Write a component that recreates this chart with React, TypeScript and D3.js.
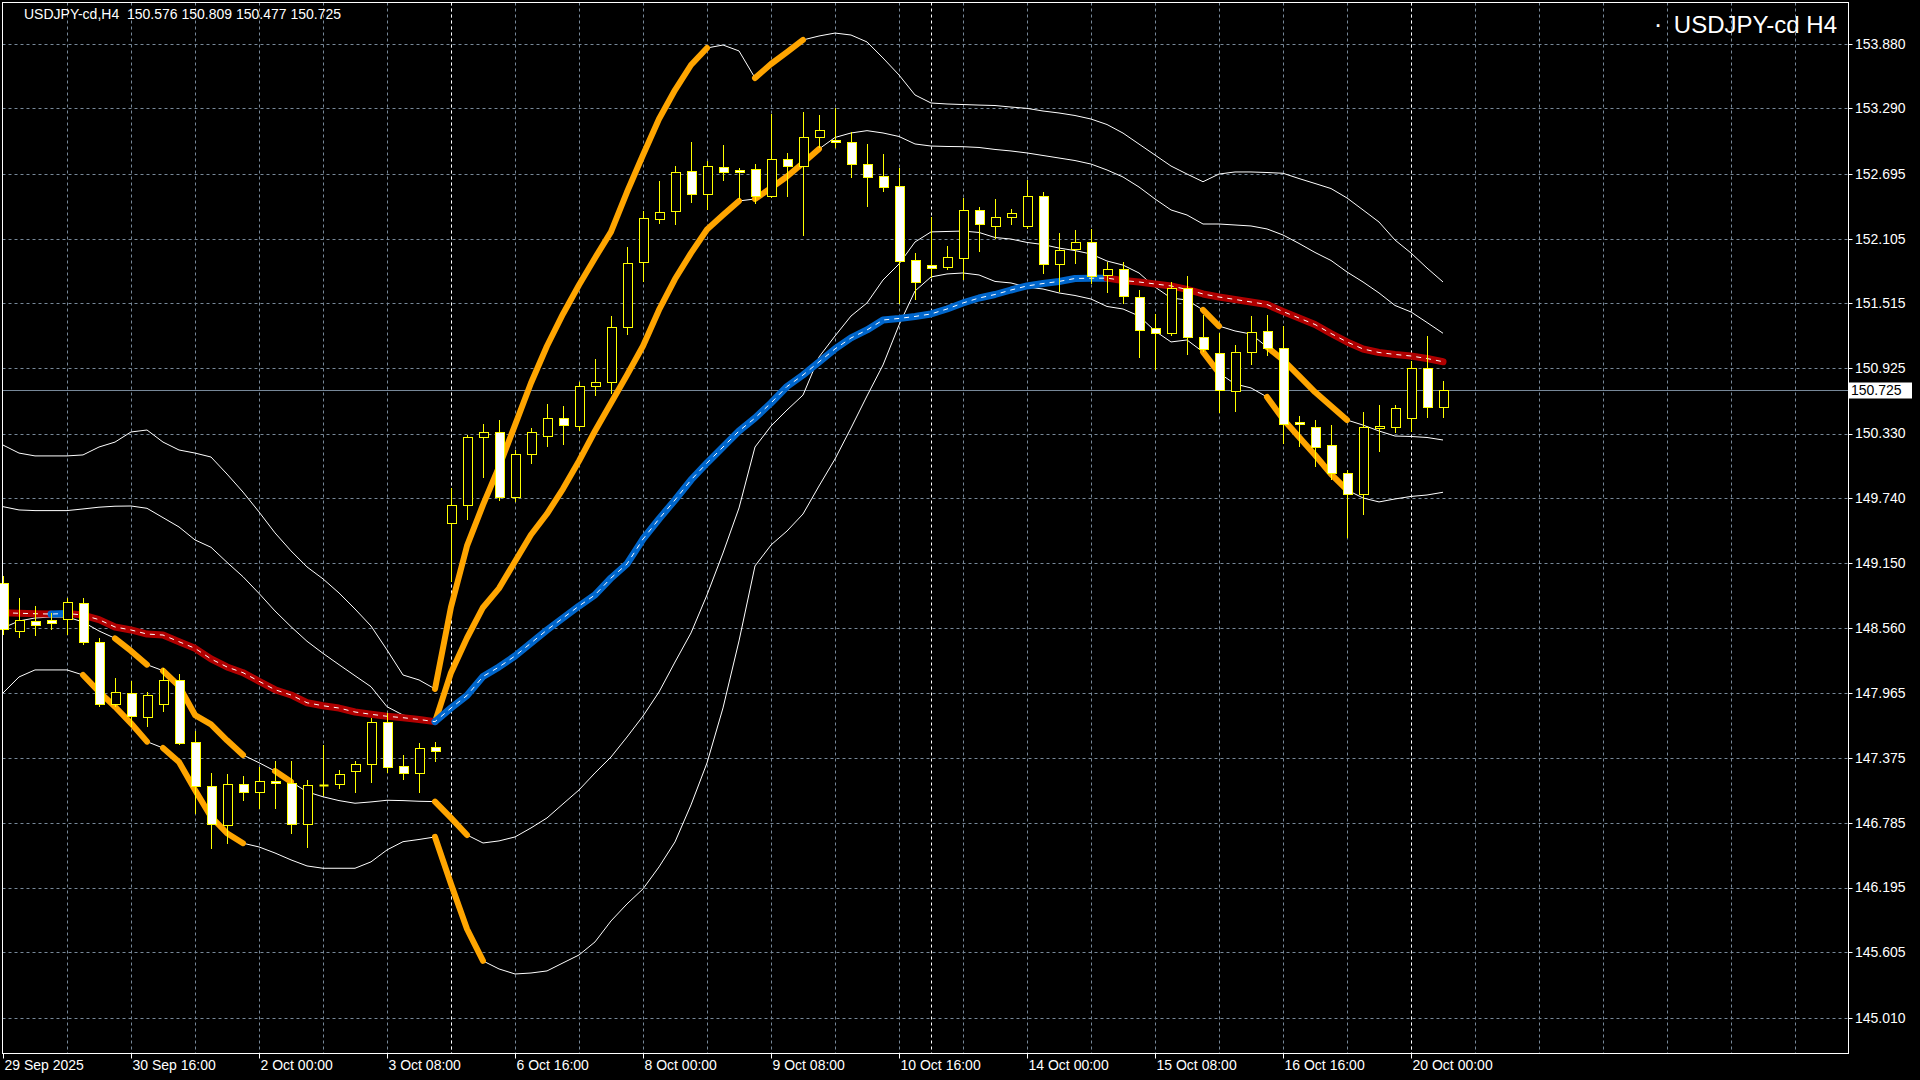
import React from 'react';
import * as d3 from 'd3';

// ---------- data ----------
const symbol = 'USDJPY-cd';
const timeframe = 'H4';

const xTickBars = [0, 8, 16, 24, 32, 40, 48, 56, 64, 72, 80, 88];
const xTickLabels = [
  '29 Sep 2025', '30 Sep 16:00', '2 Oct 00:00', '3 Oct 08:00', '6 Oct 16:00', '8 Oct 00:00',
  '9 Oct 08:00', '10 Oct 16:00', '14 Oct 00:00', '15 Oct 08:00', '16 Oct 16:00', '20 Oct 00:00',
];
const yTickValues = [
  145.010, 145.605, 146.195, 146.785, 147.375, 147.965, 148.560, 149.150,
  149.740, 150.330, 150.925, 151.515, 152.105, 152.695, 153.290, 153.880,
];
const weekStartBars = [28, 58, 88];

const open = [
  148.972, 148.535, 148.620, 148.629, 148.638, 148.784, 148.429, 147.864, 147.964, 147.745,
  147.864, 148.083, 147.518, 147.117, 146.763, 147.135, 147.062, 147.165, 147.147, 146.772,
  147.129, 147.135, 147.256, 147.317, 147.700, 147.299, 147.236, 147.475, 149.519, 149.676,
  150.296, 150.348, 149.756, 150.143, 150.307, 150.468, 150.401, 150.765, 150.802, 151.303,
  151.895, 152.287, 152.360, 152.723, 152.508, 152.760, 152.732, 152.736, 152.496, 152.827,
  152.766, 153.027, 153.000, 152.982, 152.784, 152.672, 152.581, 151.908, 151.862, 151.849,
  151.926, 152.363, 152.223, 152.299, 152.223, 152.490, 151.872, 152.008, 152.072, 151.774,
  151.826, 151.571, 151.288, 151.243, 151.658, 151.212, 151.061, 150.720, 151.070, 151.261,
  151.106, 150.435, 150.392, 150.223, 149.968, 149.776, 150.383, 150.386, 150.468, 150.924,
  150.576,
];
const high = [
  149.033, 148.830, 148.759, 148.698, 148.830, 148.830, 148.465, 148.101, 148.076, 147.973,
  148.197, 148.137, 147.623, 147.236, 147.229, 147.211, 147.296, 147.348, 147.348, 147.175,
  147.493, 147.266, 147.348, 147.742, 147.782, 147.402, 147.514, 147.523, 149.834, 150.314,
  150.418, 150.453, 150.180, 150.377, 150.596, 150.580, 150.802, 151.006, 151.400, 152.026,
  152.357, 152.629, 152.769, 152.982, 152.812, 152.957, 152.750, 152.784, 153.237, 152.883,
  153.255, 153.230, 153.291, 153.073, 152.971, 152.875, 152.745, 151.972, 152.299, 152.038,
  152.472, 152.391, 152.465, 152.375, 152.639, 152.526, 152.153, 152.184, 152.190, 151.890,
  151.890, 151.637, 151.419, 151.713, 151.765, 151.409, 151.248, 151.136, 151.400, 151.409,
  151.309, 150.489, 150.453, 150.407, 149.998, 150.523, 150.589, 150.589, 150.990, 151.218,
  150.809,
];
const low = [
  148.504, 148.480, 148.495, 148.550, 148.504, 148.411, 147.848, 147.848, 147.666, 147.666,
  147.806, 147.503, 146.872, 146.553, 146.599, 146.993, 146.917, 146.917, 146.693, 146.568,
  147.038, 147.099, 147.062, 147.154, 147.245, 147.184, 147.062, 147.350, 148.990, 149.555,
  149.930, 149.721, 149.711, 150.062, 150.219, 150.232, 150.362, 150.680, 150.701, 151.234,
  151.719, 152.250, 152.236, 152.442, 152.372, 152.639, 152.472, 152.432, 152.486, 152.496,
  152.138, 152.942, 152.942, 152.663, 152.405, 152.541, 151.516, 151.553, 151.759, 151.829,
  151.735, 151.995, 152.114, 152.236, 152.199, 151.795, 151.631, 151.886, 151.698, 151.622,
  151.516, 151.030, 150.915, 151.227, 151.052, 151.084, 150.523, 150.538, 150.963, 151.045,
  150.246, 150.219, 150.034, 149.913, 149.391, 149.595, 150.173, 150.346, 150.355, 150.483,
  150.477,
];
const close = [
  148.547, 148.629, 148.589, 148.602, 148.793, 148.429, 147.864, 147.973, 147.757, 147.946,
  148.083, 147.511, 147.117, 146.772, 147.135, 147.062, 147.163, 147.144, 146.772, 147.126,
  147.129, 147.226, 147.317, 147.700, 147.296, 147.236, 147.469, 147.436, 149.679, 150.296,
  150.342, 149.756, 150.140, 150.346, 150.468, 150.407, 150.765, 150.802, 151.303, 151.881,
  152.290, 152.350, 152.714, 152.508, 152.769, 152.709, 152.709, 152.496, 152.827, 152.766,
  153.027, 153.091, 152.982, 152.784, 152.663, 152.577, 151.904, 151.713, 151.841, 151.935,
  152.363, 152.236, 152.305, 152.336, 152.490, 151.872, 151.999, 152.072, 151.768, 151.826,
  151.586, 151.273, 151.243, 151.658, 151.212, 151.103, 150.729, 151.070, 151.252, 151.112,
  150.414, 150.414, 150.210, 149.968, 149.776, 150.392, 150.396, 150.559, 150.924, 150.574,
  150.725,
];

// Bollinger bands (+2σ, +1σ, -1σ, -2σ) and the thick moving average
const upper2 = [
  150.225, 150.152, 150.126, 150.126, 150.126, 150.135, 150.207, 150.252, 150.344, 150.362,
  150.252, 150.180, 150.152, 150.116, 149.961, 149.797, 149.616, 149.425, 149.261, 149.115,
  149.006, 148.878, 148.732, 148.577, 148.359, 148.131, 148.086, 148.004, 148.750, 149.306,
  149.680, 150.025, 150.407, 150.790, 151.127, 151.419, 151.683, 151.929, 152.166, 152.529,
  152.866, 153.194, 153.458, 153.686, 153.841, 153.868, 153.814, 153.568, 153.695, 153.804,
  153.914, 153.950, 153.977, 153.959, 153.896, 153.750, 153.595, 153.413, 153.340, 153.331,
  153.326, 153.321, 153.317, 153.303, 153.291, 153.267, 153.249, 153.226, 153.194, 153.144,
  153.066, 152.966, 152.866, 152.766, 152.693, 152.623, 152.693, 152.712, 152.712, 152.707,
  152.700, 152.652, 152.607, 152.561, 152.475, 152.366, 152.256, 152.092, 151.974, 151.837,
  151.710,
];
const upper1 = [
  149.664, 149.634, 149.628, 149.628, 149.628, 149.643, 149.659, 149.668, 149.670, 149.649,
  149.564, 149.479, 149.361, 149.294, 149.157, 149.026, 148.874, 148.714, 148.571, 148.438,
  148.328, 148.225, 148.124, 148.024, 147.842, 147.766, 147.736, 147.703, 148.152, 148.468,
  148.746, 148.920, 149.164, 149.408, 149.599, 149.826, 150.080, 150.353, 150.608, 150.863,
  151.127, 151.455, 151.737, 151.973, 152.188, 152.320, 152.448, 152.466, 152.566, 152.671,
  152.794, 152.921, 153.026, 153.067, 153.088, 153.067, 153.035, 152.967, 152.948, 152.944,
  152.942, 152.935, 152.917, 152.903, 152.885, 152.862, 152.839, 152.816, 152.784, 152.730,
  152.666, 152.575, 152.466, 152.366, 152.320, 152.238, 152.238, 152.229, 152.220, 152.193,
  152.138, 152.061, 151.979, 151.906, 151.801, 151.710, 151.610, 151.496, 151.437, 151.341,
  151.243,
];
const lower1 = [
  148.559, 148.623, 148.650, 148.659, 148.659, 148.614, 148.532, 148.465, 148.350, 148.225,
  148.170, 148.031, 147.766, 147.681, 147.536, 147.402, 147.332, 147.256, 147.158, 147.067,
  147.022, 146.987, 146.963, 146.975, 146.990, 146.987, 146.981, 146.978, 146.829, 146.674,
  146.601, 146.620, 146.656, 146.738, 146.829, 146.957, 147.084, 147.239, 147.384, 147.566,
  147.757, 147.976, 148.249, 148.514, 148.860, 149.242, 149.652, 150.207, 150.398, 150.544,
  150.680, 151.027, 151.218, 151.400, 151.519, 151.728, 151.874, 152.074, 152.166, 152.170,
  152.174, 152.161, 152.115, 152.101, 152.070, 152.051, 152.019, 151.996, 151.965, 151.901,
  151.864, 151.792, 151.664, 151.564, 151.546, 151.455, 151.309, 151.264, 151.236, 151.118,
  151.000, 150.854, 150.708, 150.580, 150.453, 150.407, 150.353, 150.307, 150.303, 150.294,
  150.271,
];
const lower2 = [
  147.967, 148.113, 148.177, 148.177, 148.177, 148.131, 147.979, 147.842, 147.691, 147.524,
  147.466, 147.339, 147.084, 146.841, 146.690, 146.599, 146.565, 146.510, 146.447, 146.392,
  146.371, 146.371, 146.371, 146.429, 146.538, 146.613, 146.633, 146.656, 146.228, 145.818,
  145.527, 145.454, 145.408, 145.417, 145.436, 145.509, 145.581, 145.700, 145.891, 146.046,
  146.183, 146.383, 146.611, 146.948, 147.330, 147.831, 148.441, 149.124, 149.315, 149.442,
  149.597, 149.852, 150.098, 150.380, 150.672, 150.954, 151.318, 151.628, 151.756, 151.783,
  151.792, 151.774, 151.715, 151.701, 151.664, 151.646, 151.610, 151.587, 151.555, 151.487,
  151.464, 151.400, 151.264, 151.164, 151.182, 151.073, 150.881, 150.781, 150.745, 150.663,
  150.462, 150.298, 150.134, 149.961, 149.816, 149.743, 149.707, 149.734, 149.757, 149.770,
  149.795,
];
const middle = [
  148.698, 148.693, 148.689, 148.686, 148.691, 148.677, 148.635, 148.568, 148.541, 148.504,
  148.495, 148.434, 148.374, 148.277, 148.204, 148.152, 148.074, 147.997, 147.949, 147.878,
  147.851, 147.830, 147.794, 147.773, 147.755, 147.742, 147.726, 147.706, 147.830, 147.944,
  148.117, 148.204, 148.304, 148.422, 148.541, 148.650, 148.759, 148.860, 149.014, 149.142,
  149.369, 149.552, 149.725, 149.907, 150.062, 150.207, 150.353, 150.471, 150.608, 150.758,
  150.863, 150.982, 151.100, 151.200, 151.273, 151.364, 151.378, 151.396, 151.419, 151.464,
  151.519, 151.564, 151.596, 151.637, 151.674, 151.696, 151.715, 151.742, 151.744, 151.745,
  151.724, 151.710, 151.692, 151.674, 151.642, 151.601, 151.573, 151.551, 151.528, 151.505,
  151.441, 151.382, 151.323, 151.241, 151.164, 151.100, 151.068, 151.050, 151.036, 151.013,
  150.984,
];

// bar ranges where the band is highlighted (band walk)
const orangeUpper2 = [[27, 44], [47, 50]];
const orangeUpper1 = [[27, 46], [47, 51]];
const orangeLower1 = [[7, 9], [10, 15], [17, 18], [27, 29], [75, 76], [79, 84]];
const orangeLower2 = [[5, 9], [10, 15], [27, 30], [75, 76], [79, 84]];

// ---------- styles ----------
const FONT = '"Liberation Sans", Arial, sans-serif';
const GRID = '#778899';
const CANDLE = '#ffff00';
const ORANGE = '#ffa500';
const MA_UP = '#0066cc';
const MA_DOWN = '#b00000';

export default function App() {
  const W = 1920;
  const H = 1080;
  const left = 2.5, top = 2.5, right = 1848.5, bottom = 1053.5;

  const n = close.length;
  const x = d3.scaleLinear().domain([0, n - 1]).range([3, 1443]);
  const y = d3.scaleLinear().domain([145.01, 153.88]).range([1017.7, 43.7]);
  const px = (i: number) => Math.round(x(i)) + 0.5;

  const line = d3
    .line<number>()
    .x((_, i) => x(i))
    .y((v) => y(v));

  const seg = (arr: number[], a: number, b: number) =>
    d3
      .line<number>()
      .x((d) => x(d))
      .y((d) => y(arr[d]))(d3.range(a, b + 1)) as string;

  // vertical grid (every 4 bars), extends to right edge
  const vGrid: number[] = [];
  for (let i = 4; x(i) < right - 2; i += 4) vGrid.push(i);

  // moving average colour runs
  const maRuns: { color: string; from: number; to: number }[] = [];
  for (let i = 0; i < n - 1; i++) {
    const c = middle[i + 1] > middle[i] ? MA_UP : MA_DOWN;
    const lastRun = maRuns[maRuns.length - 1];
    if (lastRun && lastRun.color === c) lastRun.to = i + 1;
    else maRuns.push({ color: c, from: i, to: i + 1 });
  }

  const last = n - 1;
  const lastPrice = close[last];
  const priceY = Math.round(y(lastPrice)) + 0.5;
  const header = `${symbol},${timeframe}  ${open[last].toFixed(3)} ${high[last].toFixed(3)} ${low[last].toFixed(3)} ${close[last].toFixed(3)}`;

  return (
    <div style={{ position: 'absolute', left: 0, top: 0, width: W, height: H, background: '#000' }}>
      <svg width={W} height={H} style={{ display: 'block', background: '#000' }} fontFamily={FONT}>
        {/* horizontal grid */}
        {yTickValues.map((v) => (
          <line key={'hg' + v} x1={left} x2={right} y1={Math.round(y(v)) + 0.5} y2={Math.round(y(v)) + 0.5}
            stroke={GRID} strokeDasharray="3 3" />
        ))}
        {/* vertical grid */}
        {vGrid.map((i) => (
          <line key={'vg' + i} x1={px(i)} x2={px(i)} y1={top} y2={bottom} stroke={GRID} strokeDasharray="3 3" />
        ))}
        {/* period separators */}
        {weekStartBars.map((i) => (
          <line key={'ws' + i} x1={px(i)} x2={px(i)} y1={top} y2={bottom} stroke="#ffffff" strokeDasharray="3 3" />
        ))}
        {/* last price line */}
        <line x1={left} x2={right} y1={priceY} y2={priceY} stroke={GRID} />

        {/* bands */}
        {[upper2, upper1, lower1, lower2].map((arr, k) => (
          <path key={'band' + k} d={line(arr) as string} fill="none" stroke="#ffffff" strokeWidth={1} />
        ))}
        {/* highlighted band sections */}
        {([
          [upper2, orangeUpper2],
          [upper1, orangeUpper1],
          [lower1, orangeLower1],
          [lower2, orangeLower2],
        ] as [number[], number[][]][]).map(([arr, ranges], k) =>
          ranges.map(([a, b]) => (
            <path key={'or' + k + '-' + a} d={seg(arr, a, b)} fill="none" stroke={ORANGE} strokeWidth={6}
              strokeLinecap="round" strokeLinejoin="round" />
          ))
        )}

        {/* moving average */}
        {maRuns.map((r, k) => (
          <path key={'ma' + k} d={seg(middle, r.from, r.to)} fill="none" stroke={r.color} strokeWidth={7}
            strokeLinecap="round" strokeLinejoin="round" />
        ))}
        <path d={line(middle) as string} fill="none" stroke="#ffffff" strokeWidth={1} strokeDasharray="5 5" />

        {/* candles */}
        {close.map((c, i) => {
          const o = open[i];
          const cx = px(i);
          const yTop = Math.round(y(Math.max(o, c))) + 0.5;
          const yBot = Math.round(y(Math.min(o, c))) + 0.5;
          const bull = c > o;
          return (
            <g key={'c' + i}>
              <line x1={cx} x2={cx} y1={Math.round(y(high[i]))} y2={Math.round(y(low[i])) + 1} stroke={CANDLE} />
              {yBot - yTop < 1 ? (
                <line x1={cx - 4} x2={cx + 5} y1={yTop} y2={yTop} stroke={CANDLE} strokeWidth={2} />
              ) : (
                <rect x={cx - 4} y={yTop} width={9} height={yBot - yTop} fill={bull ? '#000000' : '#ffffff'}
                  stroke={CANDLE} strokeWidth={1} />
              )}
            </g>
          );
        })}

        {/* frame */}
        <rect x={left} y={top} width={right - left} height={bottom - top} fill="none" stroke="#ffffff" />

        {/* right axis */}
        {yTickValues.map((v) => (
          <g key={'yl' + v}>
            <line x1={right} x2={right + 4} y1={Math.round(y(v)) + 0.5} y2={Math.round(y(v)) + 0.5} stroke="#ffffff" />
            <text x={1855} y={y(v)} dy="0.35em" fontSize={14} fill="#ffffff">{v.toFixed(3)}</text>
          </g>
        ))}
        {/* last price tag */}
        <rect x={1849} y={priceY - 8} width={63} height={16} fill="#ffffff" />
        <text x={1851} y={priceY} dy="0.35em" fontSize={14} fill="#000000">{lastPrice.toFixed(3)}</text>

        {/* bottom axis */}
        {xTickBars.map((b, k) => (
          <g key={'xl' + b}>
            <line x1={px(b)} x2={px(b)} y1={bottom} y2={bottom + 5} stroke="#ffffff" />
            <text x={px(b) + 1} y={1070} fontSize={14} fill="#ffffff">{xTickLabels[k]}</text>
          </g>
        ))}

        {/* header texts */}
        <text x={24} y={19} fontSize={14} fill="#ffffff" style={{ whiteSpace: 'pre' }}>{header}</text>
        <text x={1658} y={33} fontSize={26} fill="#ffffff" textAnchor="middle">·</text>
        <text x={1837} y={33} fontSize={24} fill="#ffffff" textAnchor="end">{`${symbol} ${timeframe}`}</text>
      </svg>
    </div>
  );
}
